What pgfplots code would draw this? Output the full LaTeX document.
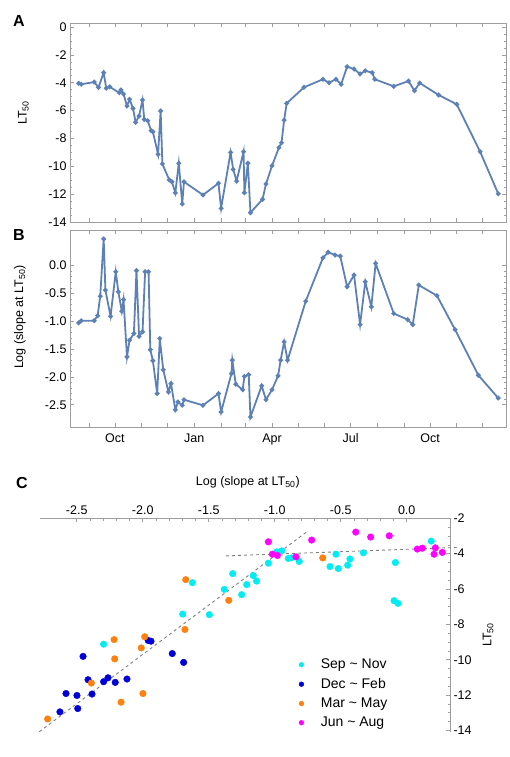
\documentclass[border=0pt]{standalone}
\usepackage{pgfplots}
\pgfplotsset{compat=1.18}
\usepackage{fontspec}
\setmainfont{Liberation Sans}

\definecolor{mblue}{rgb}{0.368,0.507,0.710}
\definecolor{framegray}{gray}{0.62}
\definecolor{cCyan}{rgb}{0,0.93,0.95}
\definecolor{cBlue}{rgb}{0,0,0.85}
\definecolor{cOrange}{rgb}{1,0.5,0.05}
\definecolor{cMag}{rgb}{1,0,1}

\newcommand{\lblfont}{\fontsize{12.5}{14}\selectfont}

\pgfplotsset{
  timeaxis/.style={
    scale only axis, width=436pt, anchor=north west,
    xmin=-52, xmax=453,
    % day 0 = 1 Oct
    xtick={0,92,182,273,365},
    minor xtick={-30,31,61,123,151,212,243,304,335,396,426},
    tick align=inside,
    axis line style={framegray, line width=0.8pt},
    tick style={framegray, line width=0.6pt},
    major tick length=4pt, minor tick length=4pt,
    minor y tick style={/pgfplots/minor tick length=2pt},
    ticklabel style={font=\lblfont},
    xticklabel style={yshift=-3pt},
    /pgf/number format/assume math mode=true,
  },
  tline/.style={mblue, line width=1.8pt, mark=*, mark size=1.4pt},
  cdot/.style={only marks, mark=*, mark size=3.3pt},
}

\begin{document}
\begin{tikzpicture}
\path (0,0) rectangle (509pt,-757pt);

% ---------- A ----------
\begin{axis}[timeaxis,
  at={(70pt,-23pt)}, height=199pt,
  ymin=-14, ymax=0.29,
  ytick={0,-2,...,-14}, minor y tick num=3,
  xticklabels={},
  ylabel={LT\textsubscript{50}},
  every axis y label/.style={at={(axis description cs:-0.107,0.548)}, rotate=90, anchor=center, font=\lblfont},
]
\addplot[tline] coordinates {
(-42,-4.04) (-39,-4.11) (-24,-3.95) (-19,-4.33) (-13,-3.28) (-10,-4.40) (-6,-4.29)
(5,-4.72) (7,-4.52) (10,-4.81) (14,-5.67) (17,-5.19) (21,-5.84) (24,-6.84) (28,-6.39)
(32,-5.24) (34,-6.63) (38,-6.73) (42,-7.44) (44,-7.52) (50,-9.14) (53,-6.03) (55,-9.83)
(63,-10.98) (66,-11.11) (70,-11.90) (74,-9.78) (78,-12.71) (80,-11.11) (102,-12.06)
(120,-11.22) (123,-13.02) (134,-9.00) (137,-10.22) (141,-11.06) (149,-8.95) (150,-11.90)
(154,-9.78) (157,-13.33) (171,-12.37) (175,-11.27) (182,-9.96) (190,-8.66) (193,-8.31)
(196,-6.68) (199,-5.48) (219,-4.33) (241,-3.75) (248,-4.00) (256,-3.75) (262,-4.11)
(269,-2.85) (277,-3.02) (284,-3.37) (290,-3.14) (298,-3.28) (301,-3.75) (323,-4.26)
(340,-3.88) (347,-4.57) (353,-4.02) (375,-4.88) (396,-5.55) (423,-8.95) (444,-11.97)
};
\end{axis}

% ---------- B ----------
\begin{axis}[timeaxis,
  at={(70pt,-230pt)}, height=197pt,
  ymin=-2.90, ymax=0.64,
  ytick={0,-0.5,...,-2.5}, minor y tick num=4,
  yticklabel style={/pgf/number format/.cd, fixed, fixed zerofill, precision=1},
  xticklabels={Oct,Jan,Apr,Jul,Oct},
  ylabel={Log (slope at LT\textsubscript{50})},
  every axis y label/.style={at={(axis description cs:-0.115,0.558)}, rotate=90, anchor=center, font=\lblfont},
]
\addplot[tline] coordinates {
(-42,-1.03) (-39,-0.99) (-24,-0.99) (-20,-0.90) (-17,-0.55) (-13,0.48) (-11,-0.44)
(-5,-0.91) (1,-0.11) (4,-0.47) (8,-0.82) (10,-0.61) (14,-1.64) (17,-1.34) (22,-1.22)
(25,-0.09) (28,-1.27) (32,-1.19) (35,-0.11) (39,-0.11) (41,-1.51) (44,-1.71) (49,-2.30)
(52,-1.31) (56,-1.87) (62,-2.27) (65,-2.12) (70,-2.59) (73,-2.45) (78,-2.51) (80,-2.41)
(102,-2.51) (120,-2.30) (123,-2.63) (135,-1.94) (136,-1.70) (140,-2.13) (148,-2.23)
(150,-1.99) (155,-1.96) (157,-2.72) (170,-2.16) (175,-2.41) (182,-2.23) (189,-1.98)
(192,-1.70) (196,-1.37) (200,-1.70) (221,-0.64) (241,0.14) (247,0.24) (255,0.19)
(261,0.17) (269,-0.38) (277,-0.17) (284,-1.06) (290,-0.29) (297,-0.74) (302,0.04)
(323,-0.86) (339,-0.97) (345,-1.06) (352,-0.35) (373,-0.54) (394,-1.15) (421,-1.97)
(444,-2.38)
};
\end{axis}

% ---------- C ----------
\begin{axis}[
  at={(40pt,-518.3pt)}, anchor=north west,
  scale only axis, width=410pt, height=213.4pt,
  xmin=-2.778, xmax=0.328, ymin=-14.07, ymax=-2,
  axis x line=top, axis y line=right,
  axis line style={framegray, line width=0.8pt, -},
  tick align=inside,
  tick style={framegray, line width=0.6pt},
  major tick length=4pt, minor tick length=2.5pt,
  xtick={-2.5,-2,...,0}, minor x tick num=4,
  ytick={-2,-4,...,-14}, minor y tick num=3,
  xticklabel style={/pgf/number format/.cd, fixed, fixed zerofill, precision=1},
  ticklabel style={font=\lblfont},
  /pgf/number format/assume math mode=true,
  xlabel={Log (slope at LT\textsubscript{50})},
  ylabel={LT\textsubscript{50}},
  every axis x label/.style={at={(axis description cs:0.507,1.171)}, anchor=center, font=\lblfont},
  every axis y label/.style={at={(axis description cs:1.093,0.453)}, rotate=90, anchor=center, font=\lblfont},
  clip=false,
  legend image post style={mark size=2.4pt},
  legend cell align=left,
  legend style={draw=none, fill=none, font=\fontsize{14}{16}\selectfont,
    at={(axis description cs:0.624,0.36)}, anchor=north west, row sep=4pt,
    /tikz/every odd column/.append style={column sep=15pt}},
]
\addplot[gray, dashed, line width=0.9pt, forget plot] coordinates {(-2.783,-14.07) (-0.763,-2.80)};
\addplot[gray, dashed, line width=0.9pt, forget plot] coordinates {(-1.369,-4.125) (0.379,-3.65)};

\addplot[cdot, color=cCyan] coordinates {
(-1.624,-5.64) (-1.318,-5.13) (-1.382,-6.02) (-1.212,-5.75) (-1.250,-6.32) (-1.162,-5.24)
(-1.137,-5.55) (-1.048,-4.54) (-0.985,-3.90) (-0.947,-3.84) (-0.897,-4.27) (-0.874,-4.24)
(-0.814,-4.44) (-0.581,-4.73) (-0.536,-4.03) (-0.518,-4.84) (-0.447,-4.65) (-0.430,-4.30)
(-0.328,-3.95) (-0.086,-4.50) (-0.096,-6.66) (-0.066,-6.81) (0.186,-3.29) (-1.697,-7.42)
(-1.495,-7.45) (-2.296,-9.12)
};
\addplot[cdot, color=cBlue] coordinates {
(-1.958,-8.91) (-1.937,-8.95) (-2.452,-9.81) (-1.776,-9.65) (-1.690,-10.15) (-2.414,-11.13)
(-2.296,-11.24) (-2.263,-11.02) (-2.208,-11.28) (-2.119,-11.09) (-2.581,-11.91)
(-2.498,-12.02) (-2.384,-11.94) (-2.492,-12.76) (-2.627,-12.95)
};
\addplot[cdot, color=cOrange] coordinates {
(-1.674,-5.47) (-1.348,-6.64) (-1.680,-8.29) (-2.217,-8.86) (-1.985,-8.70) (-2.011,-9.33)
(-2.212,-9.95) (-2.389,-11.32) (-2.164,-12.40) (-1.998,-11.91) (-2.720,-13.35) (-0.636,-4.24)
};
\addplot[cdot, color=cMag] coordinates {
(-1.048,-3.33) (-1.018,-4.03) (-0.980,-4.10) (-0.839,-4.18) (-0.720,-3.23) (-0.386,-2.78)
(-0.273,-3.06) (-0.132,-2.99) (0.080,-3.74) (0.118,-3.69) (0.217,-3.67) (0.207,-4.03)
(0.270,-3.93)
};
\legend{Sep \textasciitilde{} Nov, Dec \textasciitilde{} Feb, Mar \textasciitilde{} May, Jun \textasciitilde{} Aug}
\end{axis}

\node[font=\bfseries\fontsize{16}{16}\selectfont] at (19pt,-21pt) {A};
\node[font=\bfseries\fontsize{16}{16}\selectfont] at (19pt,-235pt) {B};
\node[font=\bfseries\fontsize{16}{16}\selectfont] at (22pt,-483pt) {C};
\end{tikzpicture}
\end{document}
